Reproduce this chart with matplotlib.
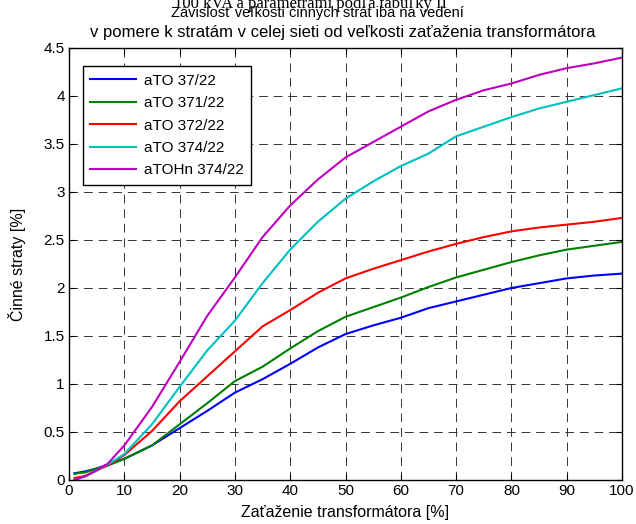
import matplotlib
matplotlib.use('Agg')
import matplotlib.pyplot as plt

plt.rcParams['font.family'] = ['Liberation Sans', 'DejaVu Sans']

load = [1, 3, 5, 7, 10, 15, 20, 25, 30, 35, 40, 45, 50, 55, 60, 65, 70, 75, 80, 85, 90, 95, 100]

ato_37 = [0.07, 0.09, 0.12, 0.16, 0.22, 0.36, 0.54, 0.72, 0.91, 1.05, 1.21, 1.38, 1.52, 1.61, 1.69, 1.79, 1.86, 1.93, 2.0, 2.05, 2.10, 2.13, 2.15]
ato_371 = [0.065, 0.08, 0.12, 0.15, 0.22, 0.36, 0.58, 0.80, 1.03, 1.18, 1.37, 1.55, 1.70, 1.80, 1.90, 2.01, 2.11, 2.19, 2.27, 2.34, 2.40, 2.44, 2.48]
ato_372 = [0.02, 0.045, 0.10, 0.15, 0.26, 0.51, 0.82, 1.08, 1.34, 1.60, 1.77, 1.95, 2.10, 2.20, 2.29, 2.38, 2.46, 2.53, 2.59, 2.63, 2.66, 2.69, 2.73]
ato_374 = [0.0, 0.04, 0.10, 0.16, 0.27, 0.58, 0.97, 1.35, 1.66, 2.05, 2.40, 2.69, 2.93, 3.11, 3.27, 3.40, 3.58, 3.68, 3.78, 3.87, 3.94, 4.01, 4.08]
atohn_374 = [0.0, 0.04, 0.10, 0.17, 0.36, 0.76, 1.23, 1.71, 2.11, 2.53, 2.86, 3.13, 3.36, 3.52, 3.68, 3.84, 3.96, 4.06, 4.13, 4.22, 4.29, 4.34, 4.40]

labels = ['aTO 37/22', 'aTO 371/22', 'aTO 372/22', 'aTO 374/22', 'aTOHn 374/22']
colors = ['#0000ff', '#008000', '#ff0000', '#00bfbf', '#bf00bf']
series = [ato_37, ato_371, ato_372, ato_374, atohn_374]

fig = plt.figure(figsize=(6.36, 5.24), dpi=100)
ax = fig.add_axes([0.1085, 0.084, 0.8695, 0.8244])

for s, c, lab in zip(series, colors, labels):
    ax.plot(load, s, color=c, linewidth=1.5, label=lab)

ax.set_xlim(0, 100)
ax.set_ylim(0, 4.5)
ax.set_xticks(range(0, 101, 10))
ax.set_yticks([0, 0.5, 1, 1.5, 2, 2.5, 3, 3.5, 4, 4.5])
ax.set_yticklabels(['0', '0.5', '1', '1.5', '2', '2.5', '3', '3.5', '4', '4.5'])
ax.tick_params(direction='in', length=4, labelsize=11, top=True, right=True, pad=3)
ax.grid(True, color='#333333', linestyle=(0, (9, 6)), linewidth=0.7)
ax.set_axisbelow(True)
for sp in ax.spines.values():
    sp.set_linewidth(1.0)

ax.set_xlabel('Zaťaženie transformátora [%]', fontsize=11.5, labelpad=5)
ax.set_ylabel('Činné straty [%]', fontsize=11.5, labelpad=13)

leg = ax.legend(loc='upper left', bbox_to_anchor=(0.025, 0.958), fontsize=11,
                fancybox=False, edgecolor='black', framealpha=1,
                handlelength=3.0, handletextpad=0.5, borderpad=0.5,
                labelspacing=0.55, borderaxespad=0)
leg.get_frame().set_linewidth(1.0)

# partly cut line of text above the title (as in the source image)
fig.text(310 / 636, 1 - 8 / 524, '100 kVA a parametrami podľa tabuľky II',
         family='Liberation Serif', fontsize=12, ha='center', va='baseline')
fig.text(317 / 636, 1 - 17 / 524, 'Závislosť veľkosti činných strát iba na vedení',
         fontsize=10.5, ha='center', va='baseline')
fig.text(343 / 636, 1 - 37 / 524, 'v pomere k stratám v celej sieti od veľkosti zaťaženia transformátora',
         fontsize=12, ha='center', va='baseline')

fig.savefig('out.png', dpi=100)
